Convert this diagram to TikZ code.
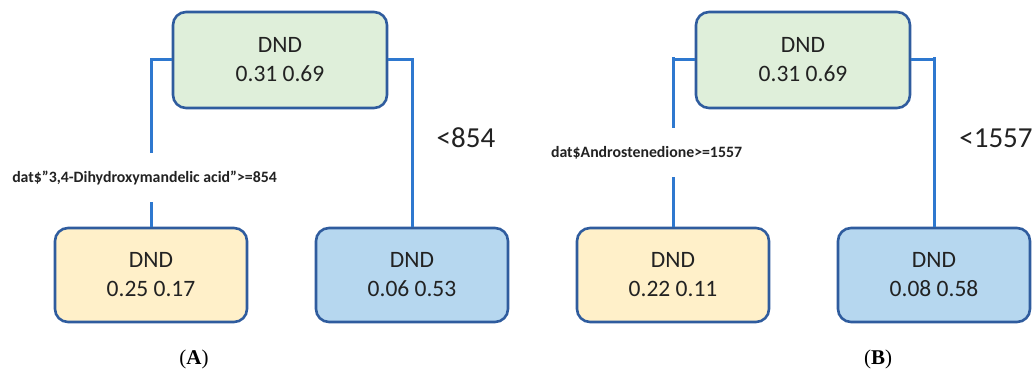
\documentclass[tikz,border=0pt]{standalone}
\usepackage{fontspec}
\setmainfont{Liberation Serif}
\newfontfamily\calib{Carlito}
\usepackage{xcolor}

\definecolor{boxline}{HTML}{2F5C9E}
\definecolor{wire}{HTML}{2E78CF}
\definecolor{rootfill}{HTML}{DFEFDA}
\definecolor{yesfill}{HTML}{FFF0C9}
\definecolor{nofill}{HTML}{B6D7EF}
\definecolor{txt}{HTML}{222222}

\begin{document}
\begin{tikzpicture}[x=1pt,y=-1pt]
    \tikzstyle{tbox}=[rectangle,rounded corners=13pt,draw=boxline,line width=2.6pt,
        inner sep=0pt,align=center,text=txt,font=\calib\fontsize{23.5}{29}\selectfont]
    \tikzstyle{root}=[tbox,fill=rootfill,minimum width=214pt,minimum height=96pt]
    \tikzstyle{yes}=[tbox,fill=yesfill,minimum width=192pt,minimum height=94pt]
    \tikzstyle{no}=[tbox,fill=nofill,minimum width=192pt,minimum height=94pt]
    \tikzstyle{wire}=[draw=wire,line width=3pt]
    \tikzstyle{cond}=[fill=white,inner sep=0pt,minimum height=49pt,text=txt,
        font=\calib\bfseries\fontsize{15.8}{18}\selectfont]
    \tikzstyle{other}=[text=txt,font=\calib\fontsize{29}{34}\selectfont]
    \tikzstyle{panel}=[font=\fontsize{21}{25}\selectfont]

    \useasboundingbox (0,0) rectangle (1035,374);

    % Tree A
    \node [root] (rootA) at (280,60) {DND\\0.31 0.69};
    \node [yes] (yesA) at (151,275) {DND\\0.25 0.17};
    \node [no] (noA) at (412,275) {DND\\0.06 0.53};

    \draw [wire] (rootA.west) -| (yesA.north);
    \draw [wire] (rootA.east) -| (noA.north);

    \node [cond] (condA) at (144.5,177.5) {dat\$”3,4-Dihydroxymandelic acid”>=854};
    \node [other] (otherA) at (466,138) {<854};

    \node [panel] (capA) at (194,359) {(\textbf{A})};

    % Tree B
    \node [root] (rootB) at (803,60) {DND\\0.31 0.69};
    \node [yes] (yesB) at (673,275) {DND\\0.22 0.11};
    \node [no] (noB) at (934,275) {DND\\0.08 0.58};

    \draw [wire] (rootB.west) -| (yesB.north);
    \draw [wire] (rootB.east) -| (noB.north);
    % small ticks above the corners
    \draw [wire] (rootB.west -| yesB.north) -- ++(0,-3);
    \draw [wire] (rootB.east -| noB.north) -- ++(0,-3);

    \node [cond] (condB) at (646.5,152.5) {dat\$Androstenedione>=1557};
    \node [other] (otherB) at (996,138) {<1557};

    \node [panel] (capB) at (878,359) {(\textbf{B})};

\end{tikzpicture}
\end{document}
